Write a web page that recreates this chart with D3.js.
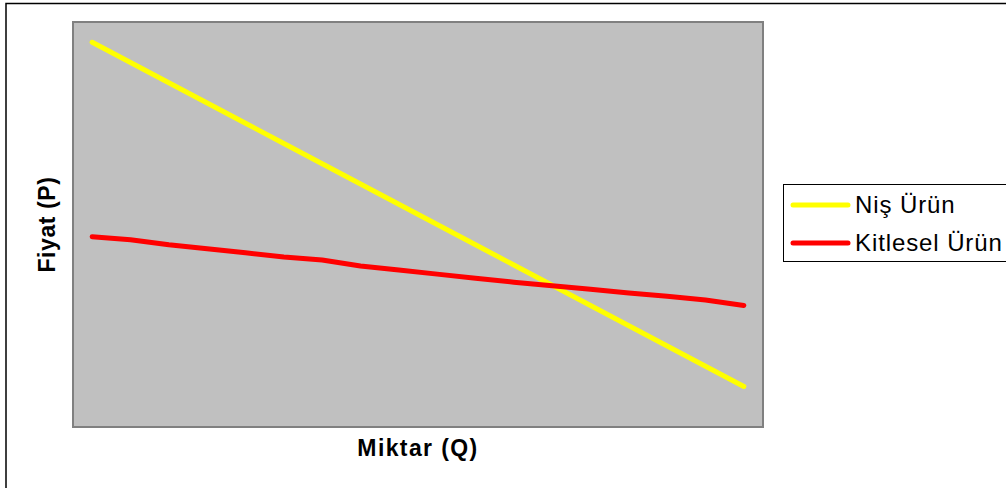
<!DOCTYPE html>
<html>
<head>
<meta charset="utf-8">
<script src="https://cdn.jsdelivr.net/npm/d3@7"></script>
<style>
  html, body { margin: 0; padding: 0; background: #fff; }
  svg { display: block; font-family: Arial, "Liberation Sans", sans-serif; }
</style>
</head>
<body>
<svg id="chart" width="1006" height="488"></svg>
<script>
// Quantity steps (category axis)
const quantities = d3.range(1, 19);
// Price for the niche product
const nicheProduct = [19, 18, 17, 16, 15, 14, 13, 12, 11, 10, 9, 8, 7, 6, 5, 4, 3, 2];
// Price for the mass-market product
const massProduct = [9.4, 9.25, 9.0, 8.8, 8.6, 8.4, 8.25, 7.95, 7.75, 7.55, 7.35, 7.15, 6.98, 6.8, 6.62, 6.46, 6.27, 6.0];
const seriesNames = ["Niş Ürün", "Kitlesel Ürün"];
const seriesColors = ["#FFFF00", "#FF0000"];

const svg = d3.select("#chart");
const W = 1006, H = 488;
const plot = { left: 73, top: 22, right: 763, bottom: 427 };

// Outer chart frame
svg.append("rect")
  .attr("x", 6).attr("y", 3.5)
  .attr("width", W + 20).attr("height", H + 20)
  .attr("fill", "#fff").attr("stroke", "#000").attr("stroke-width", 1.5);

const x = d3.scalePoint()
  .domain(quantities)
  .range([plot.left, plot.right])
  .padding(0.5);

const y = d3.scaleLinear()
  .domain([0, 20])
  .range([plot.bottom, plot.top]);

// Plot area
svg.append("rect")
  .attr("x", plot.left).attr("y", plot.top)
  .attr("width", plot.right - plot.left).attr("height", plot.bottom - plot.top)
  .attr("fill", "#C0C0C0").attr("stroke", "#808080").attr("stroke-width", 2);

const line = d3.line()
  .x((d, i) => x(quantities[i]))
  .y(d => y(d));

[nicheProduct, massProduct].forEach((values, k) => {
  svg.append("path")
    .datum(values)
    .attr("d", line)
    .attr("fill", "none")
    .attr("stroke", seriesColors[k])
    .attr("stroke-width", 5)
    .attr("stroke-linecap", "round")
    .attr("stroke-linejoin", "round");
});

// Axis titles
svg.append("text")
  .attr("x", (plot.left + plot.right) / 2).attr("y", 456)
  .attr("text-anchor", "middle")
  .attr("font-size", 23).attr("font-weight", "bold")
  .attr("letter-spacing", 1.4)
  .text("Miktar (Q)");

svg.append("text")
  .attr("transform", "translate(55," + (plot.top + plot.bottom) / 2 + ") rotate(-90)")
  .attr("text-anchor", "middle")
  .attr("font-size", 23).attr("font-weight", "bold")
  .attr("letter-spacing", 0.6)
  .text("Fiyat (P)");

// Legend
const legend = svg.append("g");
legend.append("rect")
  .attr("x", 783.5).attr("y", 184.5)
  .attr("width", 240).attr("height", 77)
  .attr("fill", "#fff").attr("stroke", "#000").attr("stroke-width", 1);

seriesNames.forEach((name, k) => {
  const ly = 205 + k * 38;
  legend.append("line")
    .attr("x1", 793).attr("x2", 848)
    .attr("y1", ly).attr("y2", ly)
    .attr("stroke", seriesColors[k])
    .attr("stroke-width", 5)
    .attr("stroke-linecap", "round");
  legend.append("text")
    .attr("x", 855).attr("y", ly + 8)
    .attr("font-size", 24)
    .attr("letter-spacing", 0.9)
    .attr("fill", "#000")
    .text(name);
});
</script>
</body>
</html>
